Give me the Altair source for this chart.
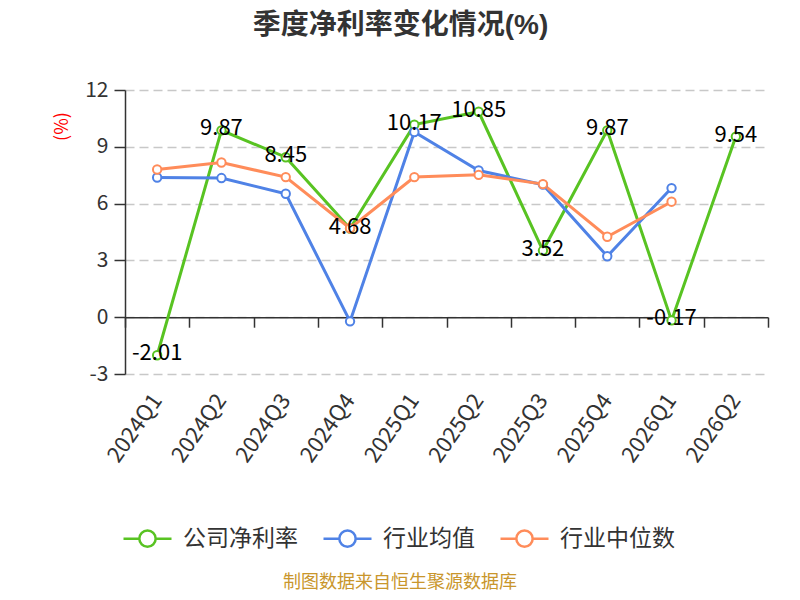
import altair as alt
import pandas as pd

quarters = ["2024Q1", "2024Q2", "2024Q3", "2024Q4", "2025Q1", "2025Q2",
            "2025Q3", "2025Q4", "2026Q1", "2026Q2"]
company = [-2.01, 9.87, 8.45, 4.68, 10.17, 10.85, 3.52, 9.87, -0.17, 9.54]
ind_mean = [7.38, 7.35, 6.52, -0.22, 9.78, 7.75, 7.0, 3.22, 6.82, None]
ind_median = [7.8, 8.17, 7.4, 4.7, 7.4, 7.52, 7.03, 4.25, 6.1, None]

series_names = ["公司净利率", "行业均值", "行业中位数"]
series_colors = ["#58c322", "#4f82e6", "#ff8c5a"]

rows = []
for name, vals in zip(series_names, [company, ind_mean, ind_median]):
    for q, v in zip(quarters, vals):
        if v is not None:
            rows.append({"quarter": q, "value": v, "series": name,
                         "label": f"{v:.2f}"})
df = pd.DataFrame(rows)
df_company = df[df["series"] == "公司净利率"]

FONT = "Noto Sans CJK SC"
TITLE_FONT = "Liberation Sans, Noto Sans CJK SC"
W, H = 643, 284

color = alt.Color(
    "series:N",
    scale=alt.Scale(domain=series_names, range=series_colors),
    sort=series_names,
    legend=alt.Legend(
        title=None, orient="none", direction="horizontal",
        legendX=-3, legendY=423,
        symbolType="M-1,0L-0.34,0M0.34,0L1,0M0.34,0A0.34,0.34,0,1,1,-0.34,0A0.34,0.34,0,1,1,0.34,0Z",
        symbolSize=2304, symbolStrokeWidth=2.5, symbolFillColor="white",
        labelFontSize=23, labelFont=FONT, labelColor="#333333",
        labelOffset=10, columnPadding=20,
    ),
)

y = alt.Y(
    "value:Q",
    scale=alt.Scale(domain=[-3, 12], nice=False, zero=False),
    axis=alt.Axis(
        values=[-3, 0, 3, 6, 9, 12], labelExpr="'' + datum.value",
        title="(%)", titleColor="red",
        titleFontSize=18, titleFont=FONT, titleFontWeight="normal",
        titleX=-63, titleY=36, titleAngle=270, titleAlign="center",
        titleBaseline="middle",
        labelFontSize=21, labelFont=FONT, labelColor="#333333",
        labelPadding=6, tickSize=11, tickColor="#333333",
        domainColor="#333333", domainWidth=1.5, tickWidth=1.5,
        grid=True, gridDash=[9, 5], gridColor="#c8c8c8", gridWidth=1.5,
    ),
)

x_labels = alt.X(
    "quarter:N", sort=quarters, scale=alt.Scale(paddingInner=0, paddingOuter=0),
    axis=alt.Axis(
        title=None, labelAngle=305, labelAlign="right", labelBaseline="middle",
        labelFontSize=22, labelFont=FONT, labelColor="#333333",
        labelPadding=22, domain=False, ticks=False, grid=False,
    ),
)
x_zero = alt.X(
    "quarter:N", sort=quarters, scale=alt.Scale(paddingInner=0, paddingOuter=0),
    axis=alt.Axis(
        title=None, orient="bottom", labels=False, offset=-56.8,
        tickBand="extent", tickSize=10, tickColor="#333333", tickWidth=1.5,
        domainColor="#333333", domainWidth=1.5, grid=False,
    ),
)

lines = alt.Chart(df).mark_line(strokeWidth=3).encode(
    x=x_labels, y=y, color=color
)
points = alt.Chart(df).mark_point(
    filled=True, fill="white", size=70, strokeWidth=2, opacity=1
).encode(x=x_zero, y=y, stroke=alt.Stroke("series:N",
         scale=alt.Scale(domain=series_names, range=series_colors), legend=None))

labels = alt.Chart(df_company).mark_text(
    fontSize=22, font=FONT, color="#000000", dy=-2, baseline="middle"
).encode(x=alt.X("quarter:N", sort=quarters, axis=None), y=alt.Y("value:Q"),
         text="label:N")

source = alt.Chart(pd.DataFrame({"t": ["制图数据来自恒生聚源数据库"]})).mark_text(
    fontSize=18, font=FONT, color="#c9962c", baseline="middle"
).encode(x=alt.value(275), y=alt.value(493), text="t:N")

chart = alt.layer(lines, points, labels, source).resolve_axis(
    x="independent"
).properties(
    width=W, height=H,
    title=alt.TitleParams(
        "季度净利率变化情况(%)", fontSize=28, font=TITLE_FONT, fontWeight="bold",
        color="#333333", anchor="middle", frame="group", dx=-46, dy=-7,
        offset=32,
    ),
    autosize=alt.AutoSizeParams(type="none"),
    padding={"left": 117, "top": 82, "right": 24, "bottom": 224},
).configure_view(stroke=None)

chart.save("out.html", embed_options={"renderer": "svg", "actions": False})
